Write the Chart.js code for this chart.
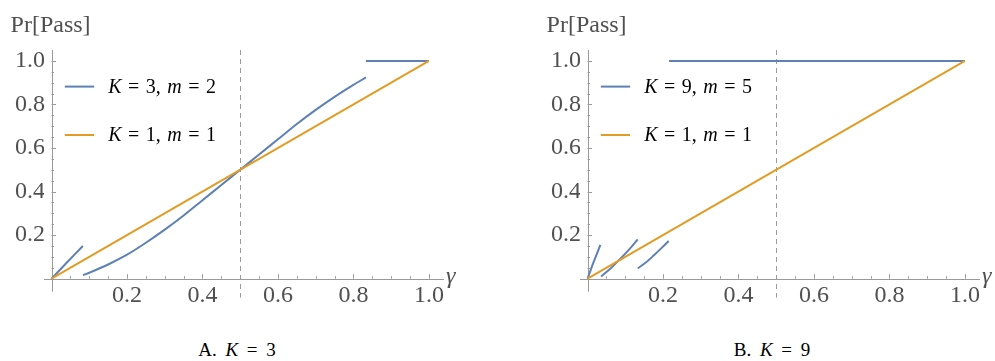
<!DOCTYPE html>
<html>
<head>
<meta charset="utf-8">
<script src="https://cdn.jsdelivr.net/npm/chart.js@4.4.0/dist/chart.umd.min.js"></script>
<style>
  body { margin: 0; background: #fff; width: 995px; height: 361px; position: relative; overflow: hidden; font-family: "Liberation Serif", "Times New Roman", serif; }
  canvas { position: absolute; top: 0; }
  .caption { position: absolute; top: 340px; width: 200px; text-align: center; font-size: 19px; line-height: 20px; color: #000; word-spacing: 4px; }
</style>
</head>
<body>
<canvas id="chartA" width="470" height="320" style="left:0"></canvas>
<canvas id="chartB" width="459" height="320" style="left:536px"></canvas>
<div class="caption" style="left:137px">A. <i>K</i> = 3</div>
<div class="caption" style="left:672px">B. <i>K</i> = 9</div>
<script>
const xTicks = [0.2, 0.4, 0.6, 0.8, 1.0];
const yTicks = [0.2, 0.4, 0.6, 0.8, 1.0];

const legendA = ['K = 3, m = 2', 'K = 1, m = 1'];
const legendB = ['K = 9, m = 5', 'K = 1, m = 1'];

// K = 3, m = 2 (null = jump in the curve)
const gammaA = [0, 0.04, 0.083, 0.083,
    0.083, 0.1, 0.15, 0.2, 0.25, 0.3, 0.35, 0.4, 0.45, 0.5, 0.55, 0.6, 0.65, 0.7, 0.75, 0.8, 0.833,
    0.833, 0.833, 1.0];
const passA = [0, 0.073, 0.15, null,
    0.016, 0.027, 0.065, 0.11, 0.165, 0.225, 0.29, 0.36, 0.43, 0.5, 0.57, 0.64, 0.71, 0.775, 0.835, 0.89, 0.924,
    null, 1.0, 1.0];

// K = 9, m = 5
const gammaB = [0, 0.017, 0.034, 0.034,
    0.036, 0.06, 0.085, 0.11, 0.133, 0.133,
    0.133, 0.155, 0.175, 0.195, 0.215, 0.215,
    0.216, 1.0];
const passB = [0, 0.08, 0.155, null,
    0.01, 0.045, 0.088, 0.133, 0.18, null,
    0.047, 0.075, 0.106, 0.139, 0.173, null,
    1.0, 1.0];

// K = 1, m = 1
const baseGamma = [0, 1];
const basePass = [0, 1];

const BLUE = '#5E81B5';
const ORANGE = '#E19C24';
const GREY_TEXT = '#505050';
const AXIS = '#9a9a9a';
const FONT = '"Liberation Serif", "Times New Roman", serif';

function toPoints(xs, ys) {
    return xs.map((x, i) => ({x: x, y: ys[i]}));
}

// axes through the origin, inward ticks, dashed line at 0.5, legend and labels
const framePlugin = {
    id: 'frame',
    beforeDatasetsDraw(chart) {
        const ctx = chart.ctx;
        const xs = chart.scales.x, ys = chart.scales.y;
        const area = chart.chartArea;
        const x0 = xs.getPixelForValue(0), y0 = ys.getPixelForValue(0);
        ctx.save();
        ctx.strokeStyle = AXIS;
        ctx.lineWidth = 1;
        ctx.beginPath();
        ctx.moveTo(area.left, Math.round(y0) + 0.5);
        ctx.lineTo(area.right, Math.round(y0) + 0.5);
        ctx.moveTo(Math.round(x0) + 0.5, area.top);
        ctx.lineTo(Math.round(x0) + 0.5, y0 + 13);
        // ticks, minor every 0.05
        for (let k = 1; k <= 20; k++) {
            const v = k * 0.05;
            const len = k % 4 === 0 ? 4.5 : 2.5;
            const px = Math.round(xs.getPixelForValue(v)) + 0.5;
            ctx.moveTo(px, y0);
            ctx.lineTo(px, y0 - len);
            const py = Math.round(ys.getPixelForValue(v)) + 0.5;
            ctx.moveTo(x0, py);
            ctx.lineTo(x0 + len, py);
        }
        ctx.stroke();
        // dashed line at gamma = 0.5
        const xm = Math.round(xs.getPixelForValue(0.5)) + 0.5;
        ctx.setLineDash([5, 4]);
        ctx.beginPath();
        ctx.moveTo(xm, area.top);
        ctx.lineTo(xm, y0 + 19);
        ctx.stroke();
        ctx.restore();
    },
    afterDatasetsDraw(chart) {
        const ctx = chart.ctx;
        const xs = chart.scales.x, ys = chart.scales.y;
        const area = chart.chartArea;
        const x0 = xs.getPixelForValue(0), y0 = ys.getPixelForValue(0);
        ctx.save();
        // axis labels
        ctx.fillStyle = GREY_TEXT;
        ctx.font = '24px ' + FONT;
        ctx.textBaseline = 'middle';
        ctx.textAlign = 'left';
        ctx.fillText('Pr[Pass]', x0 - 41, area.top - 24);
        ctx.font = 'italic 24px ' + FONT;
        ctx.textBaseline = 'alphabetic';
        ctx.fillText('\u03B3', xs.getPixelForValue(1) + 17, y0 + 4);

        // legend
        const rows = [area.top + 36.6, area.top + 85];
        chart.data.datasets.forEach((ds, i) => {
            const y = rows[i];
            ctx.strokeStyle = ds.borderColor;
            ctx.lineWidth = 2;
            ctx.beginPath();
            ctx.moveTo(x0 + 13.3, y);
            ctx.lineTo(x0 + 42.6, y);
            ctx.stroke();
            ctx.fillStyle = '#000';
            ctx.textBaseline = 'middle';
            let tx = x0 + 56.6;
            ds.label.split(' ').forEach(tok => {
                ctx.font = (/^[A-Za-z]$/.test(tok) ? 'italic ' : '') + '20px ' + FONT;
                ctx.fillText(tok, tx, y + 1);
                tx += ctx.measureText(tok).width + 6.5;
            });
        });
        ctx.restore();
    }
};

function makeChart(id, blueX, blueY, labels) {
    const canvas = document.getElementById(id);
    const W = canvas.width;
    return new Chart(canvas, {
        type: 'line',
        data: {
            datasets: [{
                label: labels[0],
                data: toPoints(blueX, blueY),
                borderColor: BLUE,
                borderWidth: 2,
                pointRadius: 0,
                spanGaps: false,
                tension: 0.3,
                order: 1
            }, {
                label: labels[1],
                data: toPoints(baseGamma, basePass),
                borderColor: ORANGE,
                borderWidth: 2,
                pointRadius: 0,
                order: 0
            }]
        },
        options: {
            responsive: false,
            animation: false,
            layout: {padding: {top: 50, right: W - 444, left: 0, bottom: 0}},
            plugins: {legend: {display: false}, tooltip: {enabled: false}},
            scales: {
                x: {
                    type: 'linear', min: -0.02, max: 1.04,
                    grid: {display: false, drawTicks: false},
                    border: {display: false},
                    afterBuildTicks: s => { s.ticks = xTicks.map(v => ({value: v})); },
                    afterFit: s => { s.height = 37; },
                    ticks: {font: {family: FONT, size: 24}, color: GREY_TEXT, padding: -2, maxRotation: 0, autoSkip: false,
                        callback: v => v.toFixed(1)}
                },
                y: {
                    type: 'linear', min: -0.02, max: 1.05,
                    grid: {display: false, drawTicks: false},
                    border: {display: false},
                    afterBuildTicks: s => { s.ticks = yTicks.map(v => ({value: v})); },
                    afterFit: s => { s.width = 44; },
                    ticks: {font: {family: FONT, size: 24}, color: GREY_TEXT, padding: -1, autoSkip: false,
                        callback: v => v.toFixed(1)}
                }
            }
        },
        plugins: [framePlugin]
    });
}

document.fonts.load('24px "Liberation Serif"').then(() => document.fonts.load('italic 24px "Liberation Serif"')).then(() => {
    makeChart('chartA', gammaA, passA, legendA);
    makeChart('chartB', gammaB, passB, legendB);
});
</script>
</body>
</html>
